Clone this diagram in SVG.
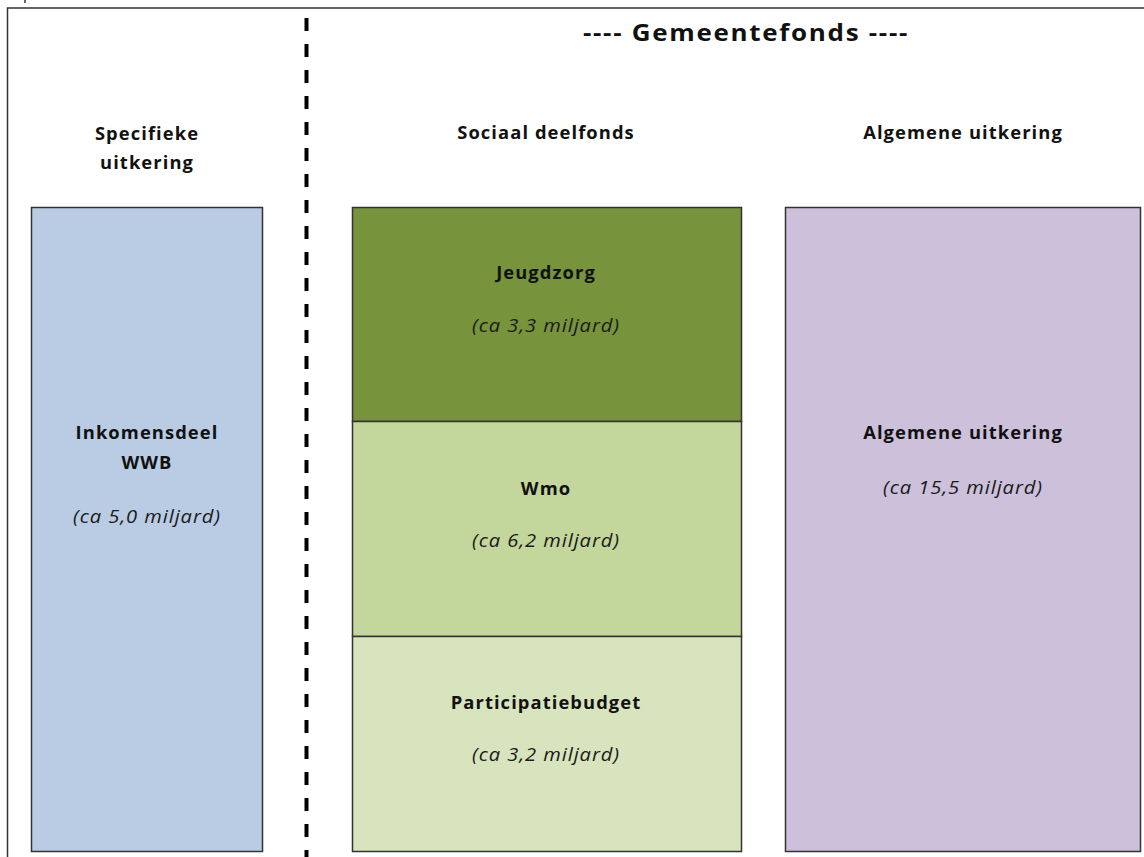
<svg xmlns="http://www.w3.org/2000/svg" width="1144" height="857" viewBox="0 0 1144 857">
<style>
.t{font-family:"Open Sans","Liberation Sans",sans-serif;font-weight:bold;font-size:17px;fill:#111;text-anchor:middle;letter-spacing:1px}
.i{font-family:"Open Sans","Liberation Sans",sans-serif;font-style:italic;font-size:18px;fill:#1a1a1a;text-anchor:middle;letter-spacing:0.8px}
.h{font-family:"Open Sans","Liberation Sans",sans-serif;font-weight:bold;font-size:23px;fill:#111;text-anchor:middle;letter-spacing:1.5px}
.box{stroke:#333;stroke-width:1.5}
</style>
<rect width="1144" height="857" fill="#fff"/>
<g id="frame" fill="none" stroke="#333" stroke-width="1.5">
<path d="M7.5 857 V8 H1144"/>
<path d="M25 0 V3"/>
</g>
<g id="connectors">
<line x1="306.5" y1="18" x2="306.5" y2="857" stroke="#000" stroke-width="4" stroke-dasharray="13 13"/>
</g>
<g id="title"><text class="h" transform="translate(746,41) scale(1.13,1)">---- Gemeentefonds ----</text></g>
<g id="header-specifiek"><text class="t" transform="translate(147,140) scale(1.08,1)">Specifieke</text><text class="t" transform="translate(147,169) scale(1.08,1)">uitkering</text></g>
<g id="header-sociaal"><text class="t" transform="translate(546,139) scale(1.08,1)">Sociaal deelfonds</text></g>
<g id="header-algemeen"><text class="t" transform="translate(963,139) scale(1.08,1)">Algemene uitkering</text></g>
<g id="node-wwb">
<rect class="box" x="31.5" y="207.5" width="231" height="644" fill="#B9CCE4"/>
<text class="t" transform="translate(147,439) scale(1.08,1)">Inkomensdeel</text>
<text class="t" transform="translate(147,469) scale(1.08,1)">WWB</text>
<text class="i" transform="translate(147,523) scale(1.12,1)">(ca 5,0 miljard)</text>
</g>
<g id="node-jeugdzorg">
<rect class="box" x="352.5" y="207.5" width="389" height="214" fill="#77933C"/>
<text class="t" transform="translate(546,279) scale(1.08,1)">Jeugdzorg</text>
<text class="i" transform="translate(546,332) scale(1.12,1)">(ca 3,3 miljard)</text>
</g>
<g id="node-wmo">
<rect class="box" x="352.5" y="421.5" width="389" height="215" fill="#C3D69B"/>
<text class="t" transform="translate(546,495) scale(1.08,1)">Wmo</text>
<text class="i" transform="translate(546,547) scale(1.12,1)">(ca 6,2 miljard)</text>
</g>
<g id="node-participatie">
<rect class="box" x="352.5" y="636.5" width="389" height="215" fill="#D7E4BD"/>
<text class="t" transform="translate(546,709) scale(1.08,1)">Participatiebudget</text>
<text class="i" transform="translate(546,761) scale(1.12,1)">(ca 3,2 miljard)</text>
</g>
<g id="node-algemeen">
<rect class="box" x="785.5" y="207.5" width="355" height="644" fill="#CCC0DA"/>
<text class="t" transform="translate(963,439) scale(1.08,1)">Algemene uitkering</text>
<text class="i" transform="translate(963,494) scale(1.12,1)">(ca 15,5 miljard)</text>
</g>
</svg>
